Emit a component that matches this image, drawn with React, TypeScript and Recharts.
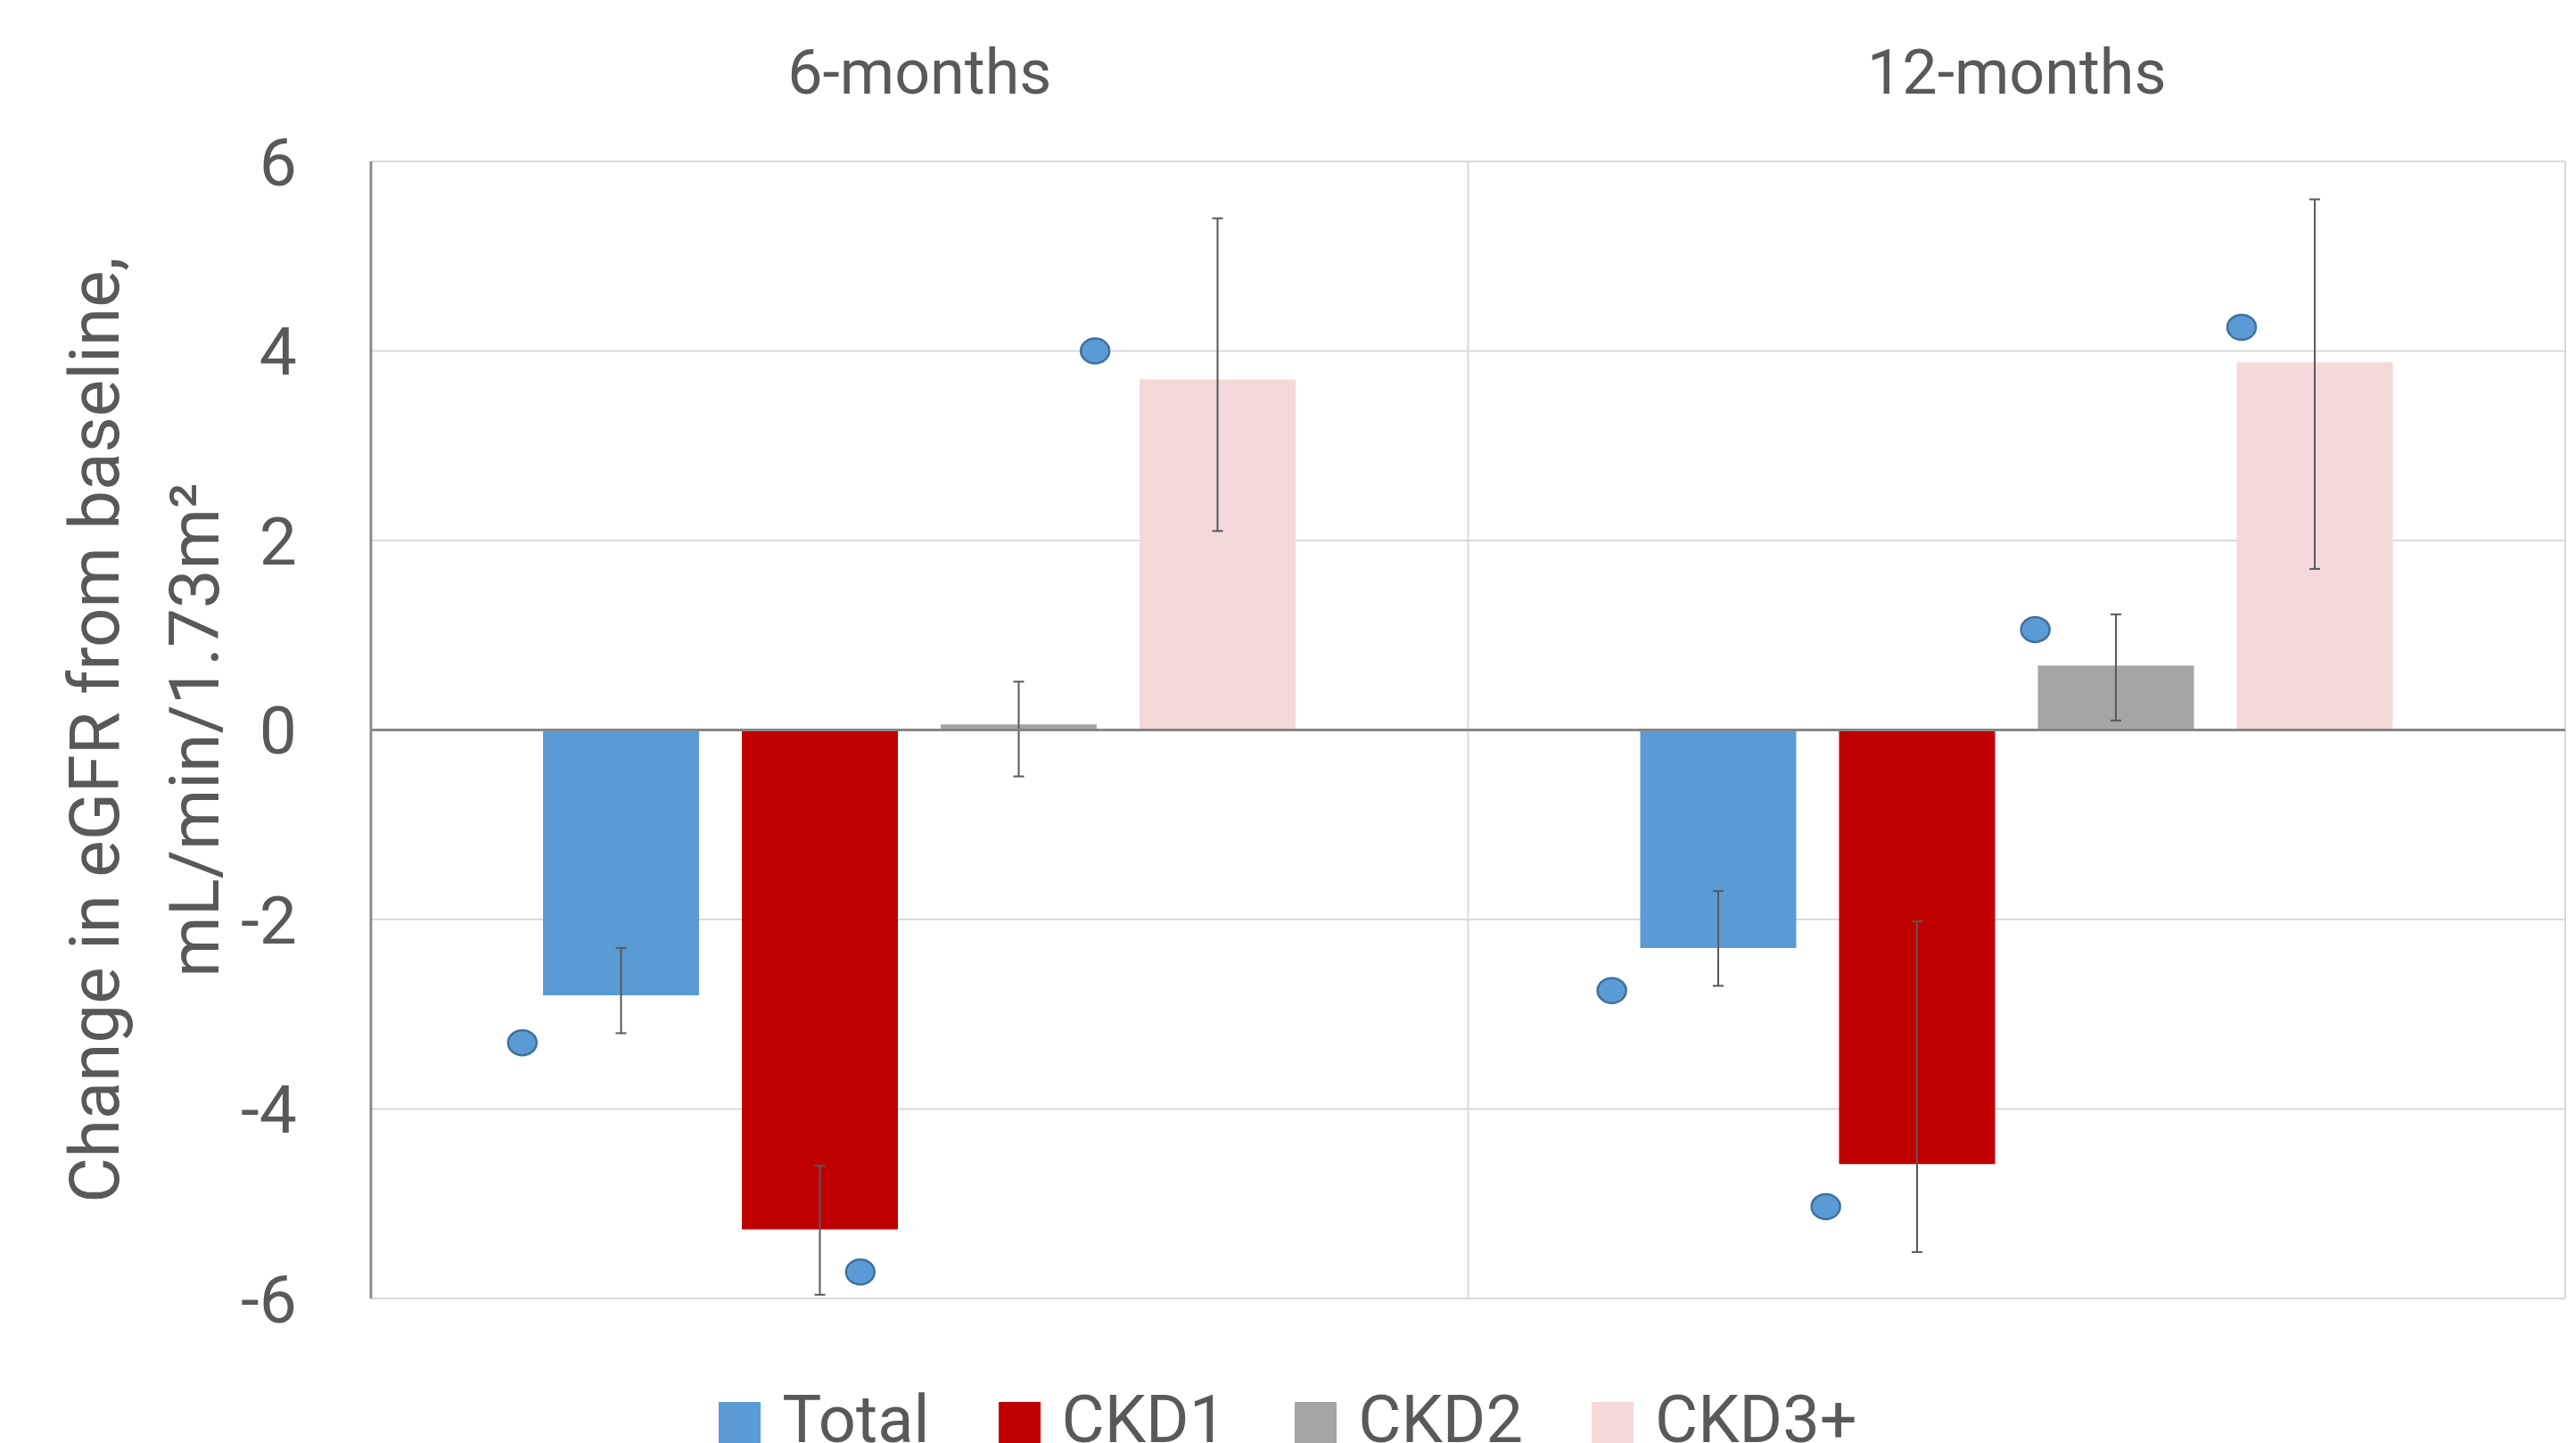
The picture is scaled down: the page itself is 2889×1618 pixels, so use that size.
import React from "react";
import {
  ComposedChart,
  Bar,
  Scatter,
  XAxis,
  YAxis,
  CartesianGrid,
  ReferenceLine,
  ErrorBar,
  Legend,
} from "recharts";

const categories = ["6-months", "12-months"];

const totalMean = [-2.8, -2.3];
const totalLow = [-3.2, -2.7];
const totalHigh = [-2.3, -1.7];

const ckd1Mean = [-5.27, -4.58];
const ckd1Low = [-5.96, -5.51];
const ckd1High = [-4.6, -2.02];

const ckd2Mean = [0.06, 0.68];
const ckd2Low = [-0.49, 0.1];
const ckd2High = [0.51, 1.22];

const ckd3Mean = [3.7, 3.88];
const ckd3Low = [2.1, 1.7];
const ckd3High = [5.4, 5.6];

// blue dots, x in category units (0..2 across the plot)
const dotX = [0.138, 0.446, 0.66, 1.131, 1.326, 1.517, 1.705];
const dotY = [-3.3, -5.72, 4.0, -2.75, -5.03, 1.06, 4.25];

const yTicks = [-6, -4, -2, 0, 2, 4, 6];

const seriesNames = ["Total", "CKD1", "CKD2", "CKD3+"];
const seriesColors = ["#5B9BD5", "#C00000", "#A5A5A5", "#F4D9DA"];

const err = (mean: number, low: number, high: number) => [mean - low, high - mean];

const chartData = categories.map((name, i) => ({
  name,
  Total: totalMean[i],
  TotalErr: err(totalMean[i], totalLow[i], totalHigh[i]),
  CKD1: ckd1Mean[i],
  CKD1Err: err(ckd1Mean[i], ckd1Low[i], ckd1High[i]),
  CKD2: ckd2Mean[i],
  CKD2Err: err(ckd2Mean[i], ckd2Low[i], ckd2High[i]),
  CKD3: ckd3Mean[i],
  CKD3Err: err(ckd3Mean[i], ckd3Low[i], ckd3High[i]),
}));

const dotData = dotX.map((x, i) => ({ x, y: dotY[i] }));

const FONT = "Roboto, 'Open Sans', sans-serif";
const TEXT = "#595959";

function YLabel(props: any) {
  const vb = props.viewBox || { x: 0, y: 181, width: 416, height: 1275 };
  const cy = vb.y + vb.height / 2;
  const x1 = vb.x + 133;
  const x2 = vb.x + 245;
  return (
    <g>
      <text
        x={x1}
        y={cy}
        transform={`rotate(-90 ${x1} ${cy})`}
        textAnchor="middle"
        fill={TEXT}
        fontSize={78}
        fontFamily={FONT}
      >
        Change in eGFR from baseline,
      </text>
      <text
        x={x2}
        y={cy}
        transform={`rotate(-90 ${x2} ${cy})`}
        textAnchor="middle"
        fill={TEXT}
        fontSize={78}
        fontFamily={FONT}
      >
        mL/min/1.73m²
      </text>
    </g>
  );
}

function Dot(props: any) {
  return (
    <ellipse
      cx={props.cx}
      cy={props.cy}
      rx={16}
      ry={14}
      fill="#5B9BD5"
      stroke="#41719C"
      strokeWidth={2.5}
    />
  );
}

function LegendBox() {
  return (
    <div
      style={{
        height: 200,
        boxSizing: "border-box",
        paddingTop: 99,
        display: "flex",
        justifyContent: "center",
        fontFamily: FONT,
        fontSize: 74,
        lineHeight: "74px",
        color: TEXT,
      }}
    >
      {seriesNames.map((n, i) => (
        <div
          key={n}
          style={{
            display: "flex",
            alignItems: "center",
            marginLeft: i === 0 ? 0 : 77,
            height: 74,
          }}
        >
          <div
            style={{
              width: 47,
              height: 47,
              background: seriesColors[i],
              marginRight: 24,
              position: "relative",
              top: 3,
            }}
          />
          <span>{n}</span>
        </div>
      ))}
    </div>
  );
}

export default function App() {
  const keys = ["Total", "CKD1", "CKD2", "CKD3"];
  return (
    <div
      style={{
        position: "absolute",
        left: 0,
        top: 0,
        width: 2889,
        height: 1618,
        overflow: "hidden",
        background: "#fff",
      }}
    >
      <ComposedChart
        width={2889}
        height={1700}
        data={chartData}
        margin={{ top: 81, right: 12, left: 0, bottom: 44 }}
        barSize={175}
        barGap={48}
      >
        <CartesianGrid vertical={false} stroke="#D9D9D9" strokeWidth={2} />
        <XAxis
          dataKey="name"
          orientation="top"
          height={100}
          axisLine={false}
          tickLine={false}
          tickSize={0}
          tickMargin={76}
          tick={{ fill: TEXT, fontSize: 70, fontFamily: FONT }}
        />
        <XAxis
          xAxisId="num"
          type="number"
          dataKey="x"
          domain={[0, 2]}
          allowDataOverflow
          hide
        />
        <YAxis
          type="number"
          domain={[-6, 6]}
          ticks={yTicks}
          width={416}
          axisLine={{ stroke: "#8C8C8C", strokeWidth: 3 }}
          tickLine={false}
          tickSize={0}
          tickMargin={83}
          tick={{ fill: TEXT, fontSize: 75, fontFamily: FONT }}
          label={{ content: <YLabel /> }}
        />
        <ReferenceLine xAxisId="num" x={1} stroke="#D9D9D9" strokeWidth={2} />
        <ReferenceLine xAxisId="num" x={2} stroke="#D9D9D9" strokeWidth={2} />
        {keys.map((k, i) => (
          <Bar
            key={k}
            dataKey={k}
            name={seriesNames[i]}
            fill={seriesColors[i]}
            isAnimationActive={false}
          >
            <ErrorBar
              dataKey={k + "Err"}
              width={6}
              stroke="#595959"
              strokeWidth={2}
              direction="y"
            />
          </Bar>
        ))}
        <ReferenceLine y={0} stroke="#868686" strokeWidth={3} />
        <Scatter
          xAxisId="num"
          data={dotData}
          dataKey="y"
          shape={<Dot />}
          legendType="none"
          isAnimationActive={false}
        />
        <Legend
          verticalAlign="bottom"
          height={200}
          content={<LegendBox />}
          wrapperStyle={{ left: 0, width: 2889 }}
        />
      </ComposedChart>
    </div>
  );
}
